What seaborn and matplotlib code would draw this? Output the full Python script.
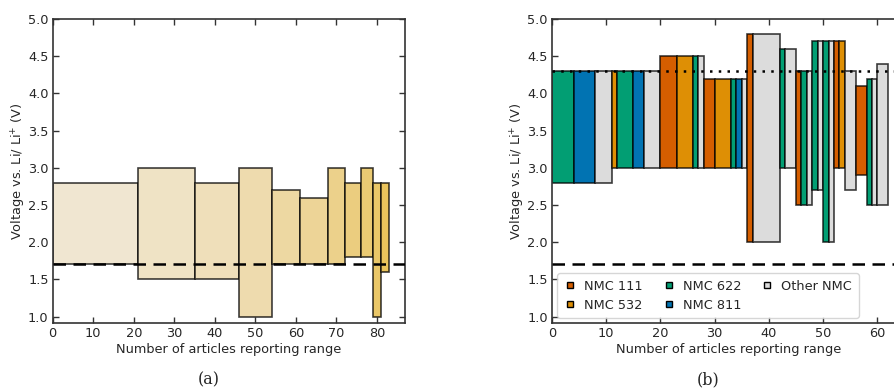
import numpy as np
import matplotlib
matplotlib.use("Agg")
import matplotlib.pyplot as plt
import seaborn as sns
from matplotlib.lines import Line2D

# ---- data: panel (a) ----
a_widths = [21, 14, 11, 8, 7, 7, 4, 4, 3, 2, 2]
a_low = [1.7, 1.5, 1.5, 1.0, 1.7, 1.7, 1.7, 1.8, 1.8, 1.0, 1.6]
a_high = [2.8, 3.0, 2.8, 3.0, 2.7, 2.6, 3.0, 2.8, 3.0, 2.8, 2.8]

# ---- data: panel (b) ----
b_widths = [4, 4, 3, 1, 3, 2, 3, 3, 3, 1, 1, 2, 3, 1, 1, 1, 1, 5, 1, 2,
            1, 1, 1, 1, 1, 1, 1, 1, 1, 2, 2, 1, 1, 2]
b_low = [2.8, 2.8, 2.8, 3.0, 3.0, 3.0, 3.0, 3.0, 3.0, 3.0, 3.0, 3.0, 3.0, 3.0, 3.0, 3.0,
         2.0, 2.0, 3.0, 3.0, 2.5, 2.5, 2.5, 2.7, 2.7, 2.0, 2.0, 3.0, 3.0, 2.7, 2.9, 2.5, 2.5, 2.5]
b_high = [4.3, 4.3, 4.3, 4.3, 4.3, 4.3, 4.3, 4.5, 4.5, 4.5, 4.5, 4.2, 4.2, 4.2, 4.2, 4.2,
          4.8, 4.8, 4.6, 4.6, 4.3, 4.3, 4.3, 4.7, 4.7, 4.7, 4.7, 4.7, 4.7, 4.3, 4.1, 4.2, 4.2, 4.4]
b_type = ["622", "811", "Other", "532", "622", "811", "Other", "111", "532", "622", "Other",
          "111", "532", "622", "811", "Other", "111", "Other", "622", "Other", "111", "622",
          "Other", "622", "Other", "622", "Other", "111", "532", "Other", "111", "622", "Other", "Other"]

legend_labels = ["NMC 111", "NMC 532", "NMC 622", "NMC 811", "Other NMC"]
legend_keys = ["111", "532", "622", "811", "Other"]

lower_limit = 1.7
upper_limit = 4.3

sns.set_theme(style="ticks")
plt.rcParams["font.family"] = ["DejaVu Sans"]
plt.rcParams["mathtext.fontset"] = "dejavusans"

cb = sns.color_palette("colorblind")
type_colors = {"111": cb[3], "532": cb[1], "622": cb[2], "811": cb[0], "Other": "#dcdcdc"}

fig = plt.figure(figsize=(8.94, 3.92), dpi=100)
ax1 = fig.add_axes([0.059, 0.1755, 0.3944, 0.776])
ax2 = fig.add_axes([0.6174, 0.1755, 0.3944, 0.776])

edge = (0, 0, 0, 0.75)
FS = 9.3

# panel (a)
c0 = np.array([240, 230, 209]) / 255
c1 = np.array([233, 195, 92]) / 255
n = len(a_widths)
lefts = np.concatenate([[0], np.cumsum(a_widths)[:-1]])
for i in range(n):
    t = i / (n - 1)
    col = c0 * (1 - t) + c1 * t
    ax1.bar(lefts[i], a_high[i] - a_low[i], width=a_widths[i], bottom=a_low[i],
            align="edge", color=col, edgecolor=edge, linewidth=1.2)
ax1.axhline(lower_limit, color="black", ls=(0, (5, 3)), lw=1.8, zorder=5)
ax1.set_xlim(0, 87)

# panel (b)
lefts_b = np.concatenate([[0], np.cumsum(b_widths)[:-1]])
for i in range(len(b_widths)):
    ax2.bar(lefts_b[i], b_high[i] - b_low[i], width=b_widths[i], bottom=b_low[i],
            align="edge", color=type_colors[b_type[i]], edgecolor=edge, linewidth=1.2)
ax2.axhline(lower_limit, color="black", ls=(0, (5, 3)), lw=1.8, zorder=5)
ax2.axhline(upper_limit, color="black", ls=(0, (1, 2.5)), lw=1.8, zorder=5)
ax2.set_xlim(0, 65)

handles = [Line2D([0], [0], marker="s", ls="none", markersize=4.5,
                  markerfacecolor=type_colors[k], markeredgecolor="black", markeredgewidth=1)
           for k in legend_keys]
ax2.legend(handles, legend_labels, ncol=3, loc="lower left", fontsize=FS,
           handlelength=1.0, handletextpad=0.6, columnspacing=1.5,
           borderaxespad=0.4, borderpad=0.5, labelspacing=0.45,
           frameon=True, edgecolor="#cccccc", fancybox=True)

for ax in (ax1, ax2):
    ax.set_ylim(0.91, 5.0)
    ax.set_yticks(np.arange(1.0, 5.01, 0.5))
    ax.set_xticks(np.arange(0, 81 if ax is ax1 else 61, 10))
    ax.tick_params(direction="in", top=True, right=True, length=4, width=1,
                   labelsize=FS, pad=3, color="#333333")
    for s in ax.spines.values():
        s.set_linewidth(1.2)
        s.set_color("#333333")
    ax.set_xlabel("Number of articles reporting range", fontsize=FS, labelpad=2)
    ax.set_ylabel(r"Voltage vs. Li/ Li$^{+}$ (V)", fontsize=FS, labelpad=0)
    ax.grid(False)

fig.text(0.233, 0.03, "(a)", ha="center", va="center", fontsize=11.5, family="DejaVu Serif")
fig.text(0.792, 0.03, "(b)", ha="center", va="center", fontsize=11.5, family="DejaVu Serif")

fig.savefig("out.png", dpi=100)
